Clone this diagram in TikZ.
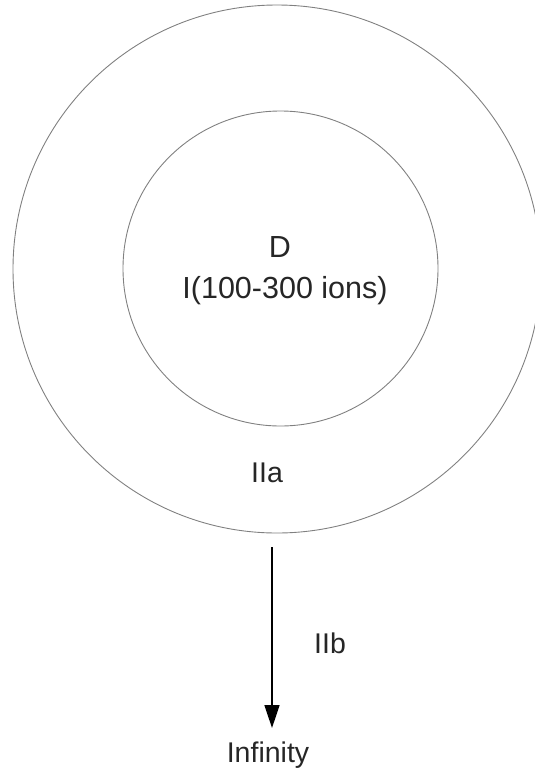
\documentclass[tikz,border=0pt]{standalone}
\usepackage{fontspec}
\setmainfont{Liberation Sans}
\usetikzlibrary{arrows.meta}
\begin{document}
\begin{tikzpicture}[x=1pt,y=-1pt,
  ring/.style={draw=black!50,line width=0.9pt,circle,inner sep=0pt},
  lbl/.style={font=\fontsize{28.5}{32}\selectfont,text=black!85,anchor=base,inner sep=0pt},
  biglbl/.style={lbl,font=\fontsize{30.5}{34}\selectfont},
  arr/.style={draw=black,line width=1.5pt,-{Triangle[length=23pt,width=15pt]}}]
\useasboundingbox (0,0) rectangle (535,772);
\clip (0,0) rectangle (535,772);
\node[ring,minimum size=528pt] (outer) at (277,269) {};
\node[ring,minimum size=315pt] (inner) at (280.5,268.5) {};
\node[biglbl] (d) at (280,257) {D};
\node[biglbl] (ions) at (285,298) {I(100-300 ions)};
\node[lbl] (iia) at (267,482) {IIa};
\node[lbl] (iib) at (330,653) {IIb};
\node[lbl] (inf) at (268,762) {Infinity};
\coordinate (a) at (272,547);
\coordinate (b) at (272,728);
\draw[arr] (a) -- (b);
\end{tikzpicture}
\end{document}
